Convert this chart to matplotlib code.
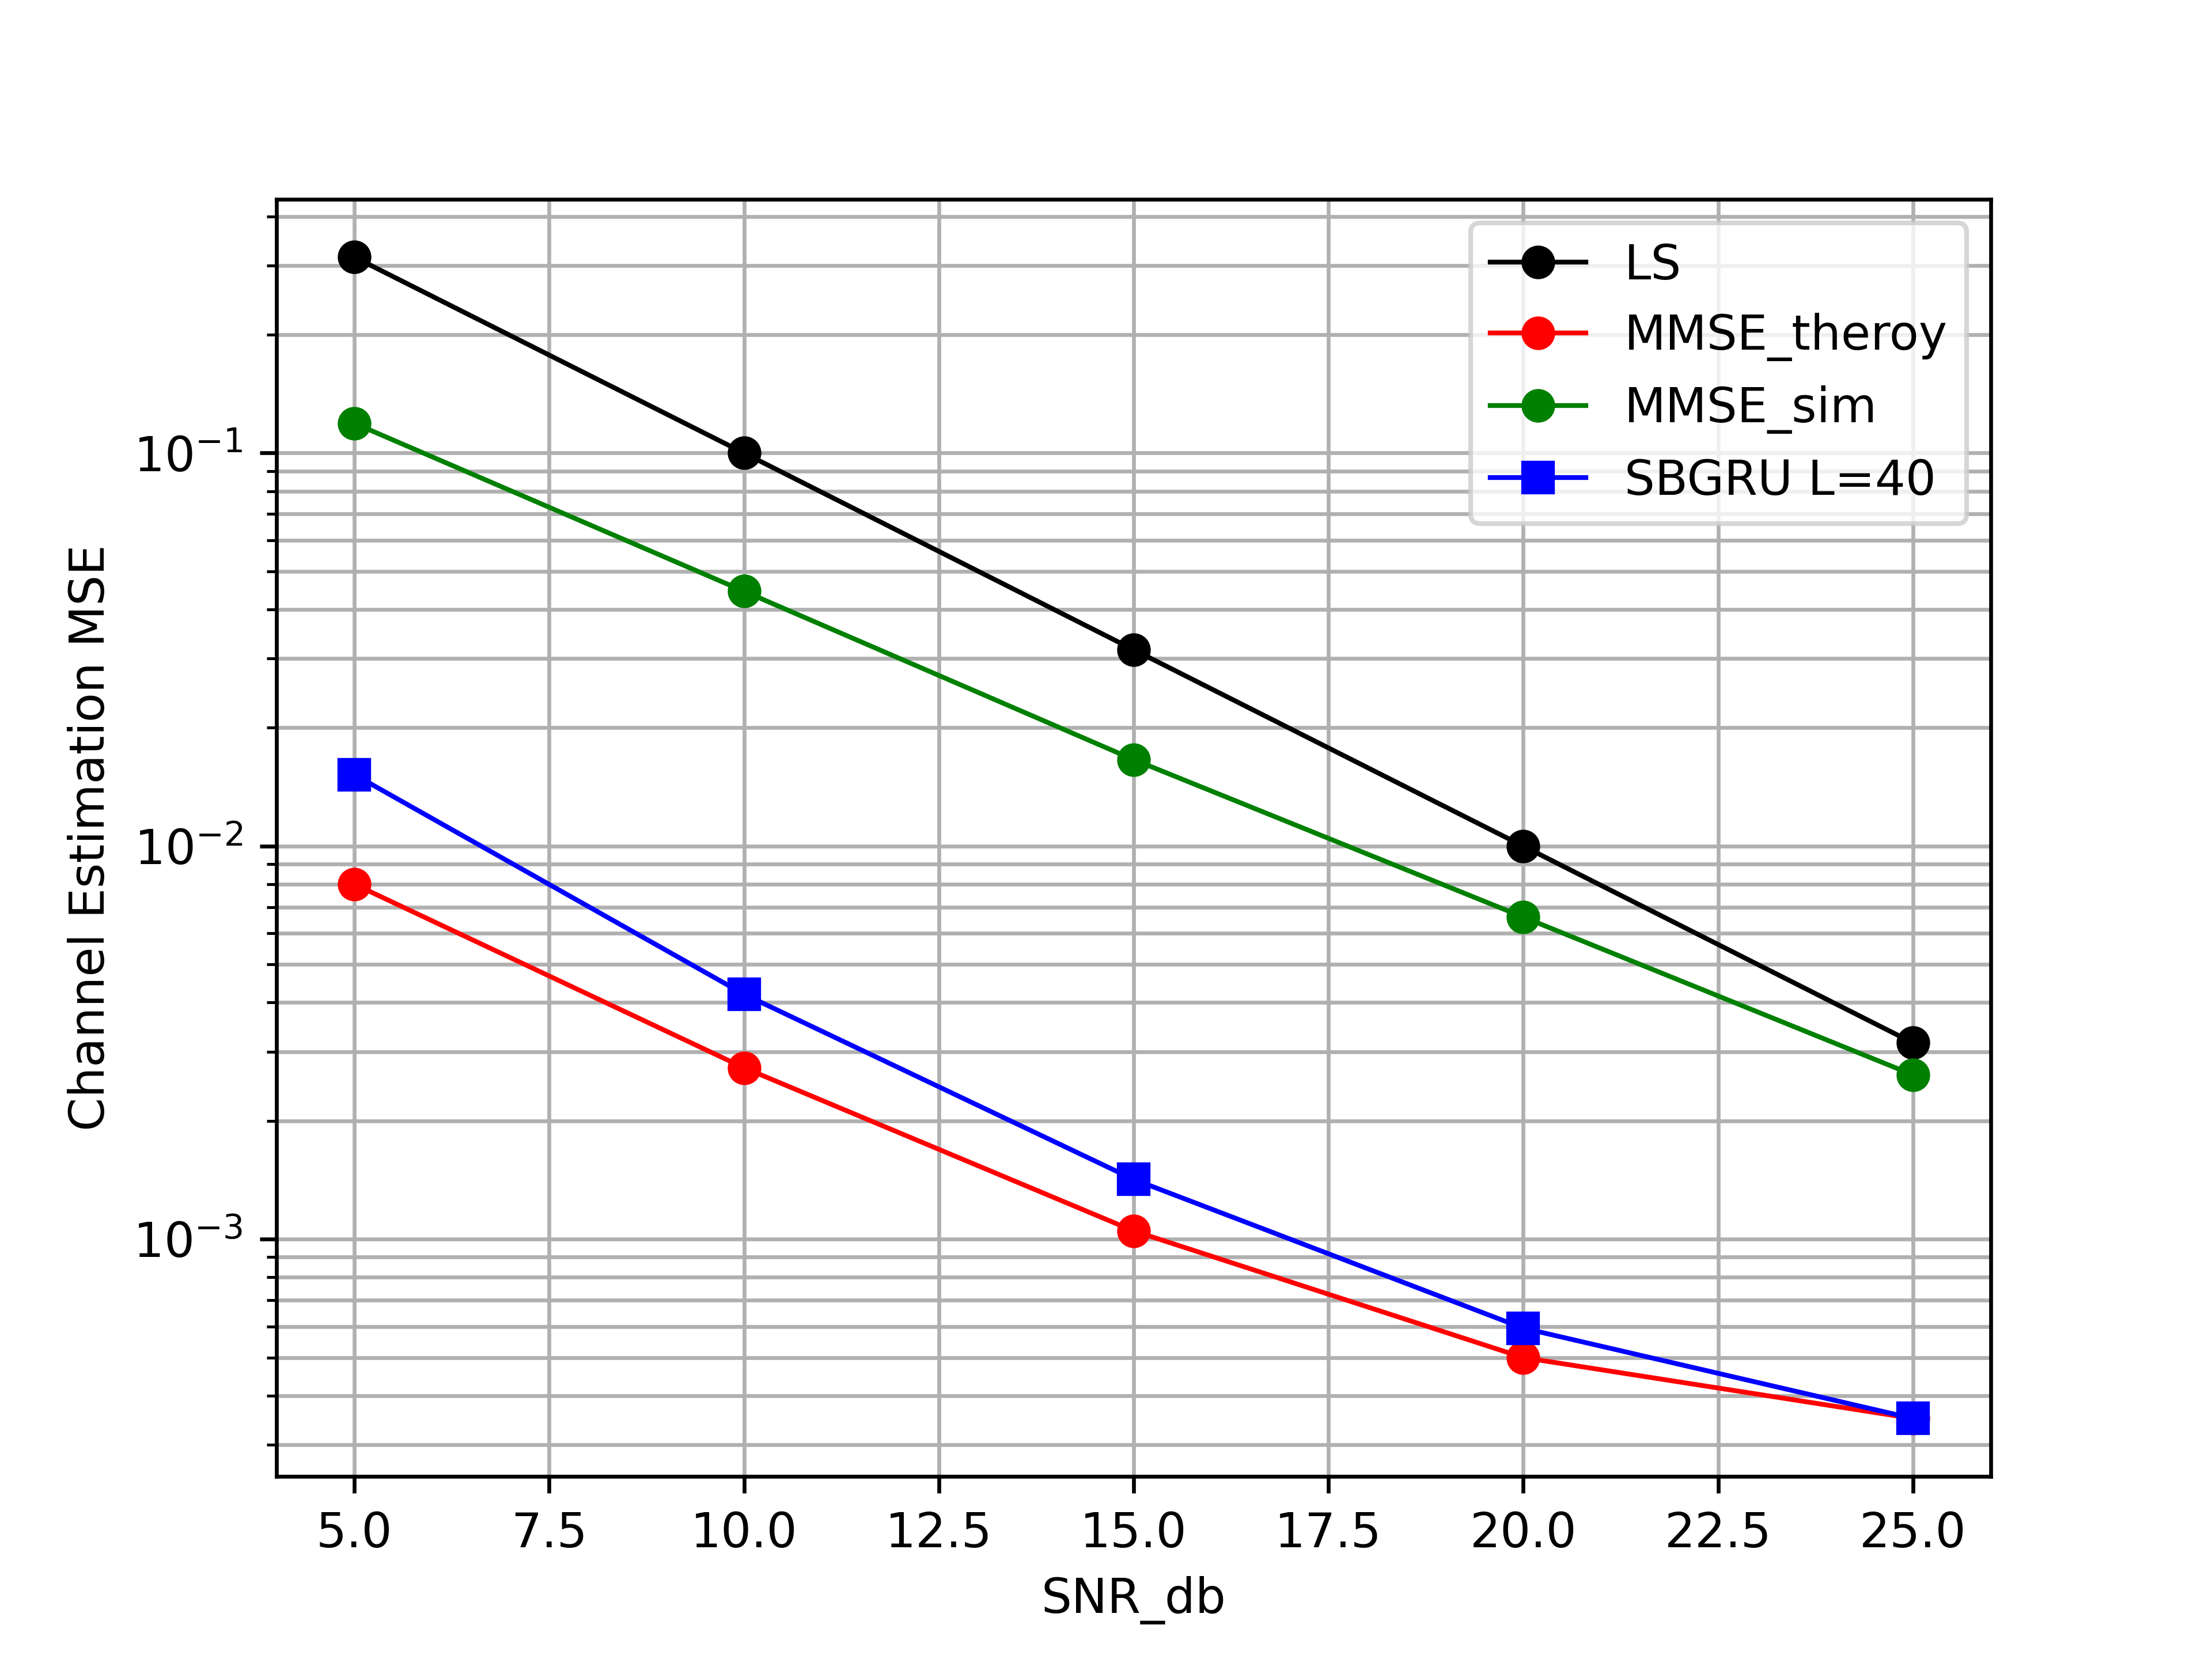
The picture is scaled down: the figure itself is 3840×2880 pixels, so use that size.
import numpy as np
import matplotlib.pyplot as plt

snr_db = [5, 10, 15, 20, 25]
mse_ls = [0.315, 0.1, 0.0316, 0.01, 0.00316]
mse_mmse_theory = [0.0080, 0.00273, 0.00105, 0.00050, 0.00035]
mse_mmse_sim = [0.119, 0.0445, 0.0166, 0.0066, 0.00262]
mse_sbgru = [0.0152, 0.0042, 0.00142, 0.000594, 0.00035]

plt.figure(figsize=(6.4, 4.8))
plt.semilogy(snr_db, mse_ls, 'ko-', linewidth=1, label='LS')
plt.semilogy(snr_db, mse_mmse_theory, 'ro-', linewidth=1, label='MMSE_theroy')
plt.semilogy(snr_db, mse_mmse_sim, 'go-', linewidth=1, label='MMSE_sim')
plt.semilogy(snr_db, mse_sbgru, 'bs-', linewidth=1, label='SBGRU L=40')
plt.grid(True, which='both')
plt.xlabel('SNR_db')
plt.ylabel('Channel Estimation MSE')
plt.legend(loc='upper right')
plt.savefig('out.png', dpi=600)
